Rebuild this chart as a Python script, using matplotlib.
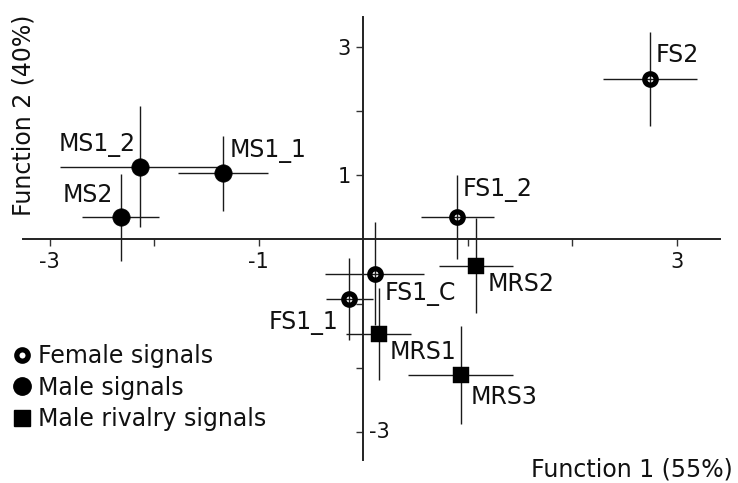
import matplotlib
matplotlib.use("Agg")
import matplotlib.pyplot as plt
from matplotlib.lines import Line2D

# ------------------- DATA ------------------- #

female_names = ["FS2", "FS1_2", "FS1_C", "FS1_1"]
female_x = [2.75, 0.90, 0.11, -0.13]
female_y = [2.49, 0.345, -0.53, -0.925]
female_xerr = [0.45, 0.35, 0.47, 0.225]
female_yerr = [0.73, 0.65, 0.80, 0.64]

male_names = ["MS1_2", "MS1_1", "MS2"]
male_x = [-2.13, -1.34, -2.32]
male_y = [1.13, 1.03, 0.345]
male_xerr = [0.77, 0.43, 0.37]
male_yerr = [0.94, 0.58, 0.68]

rival_names = ["MRS1", "MRS2", "MRS3"]
rival_x = [0.15, 1.08, 0.935]
rival_y = [-1.47, -0.41, -2.11]
rival_xerr = [0.31, 0.355, 0.50]
rival_yerr = [0.71, 0.74, 0.76]

x_ticks = [-3, -2, -1, 1, 2, 3]
x_ticklabels = ["-3", "", "-1", "", "", "3"]
y_ticks = [-3, -2, -1, 1, 2, 3]
y_shown_left = [1, 3]
y_shown_right = [-3]

# label offsets in pixels (dx, dy, ha)
label_offsets = {
    "FS2": (5, 24, "left"), "FS1_2": (6, 27, "left"),
    "FS1_C": (10, -20, "left"), "FS1_1": (-11, -24, "right"),
    "MS1_2": (-5, 22, "right"), "MS1_1": (7, 22, "left"),
    "MS2": (-8, 22, "right"),
    "MRS1": (11, -18, "left"), "MRS2": (12, -18, "left"),
    "MRS3": (10, -22, "left"),
}

# ------------------- PLOT ------------------- #

plt.rcParams["font.family"] = "DejaVu Sans"
plt.rcParams["axes.unicode_minus"] = False

W, H = 738, 483
fig = plt.figure(figsize=(W / 100, H / 100), dpi=100)
ax = fig.add_axes([23 / W, 1 - 460 / H, 697 / W, 443 / H])
ax.set_xlim(-3.254, 3.416)
ax.set_ylim(-3.43, 3.46)

ink = "#111111"
for s in ["top", "right"]:
    ax.spines[s].set_visible(False)
for s in ["left", "bottom"]:
    ax.spines[s].set_position(("data", 0))
    ax.spines[s].set_linewidth(1.4)
    ax.spines[s].set_color("#222222")

ax.set_xticks(x_ticks)
ax.set_xticklabels(x_ticklabels)
ax.set_yticks(y_ticks)
ax.set_yticklabels([str(t) if t in y_shown_left else "" for t in y_ticks])
ax.tick_params(axis="both", direction="out", length=5, width=1.0,
               color="#333333", labelsize=15, labelcolor=ink, pad=4)
for t in y_shown_right:
    ax.text(0.06, t, str(t), fontsize=15, color=ink, ha="left", va="center")

eb = dict(fmt="none", ecolor="#1a1a1a", elinewidth=1.0, capsize=0, zorder=2)
ax.errorbar(female_x, female_y, xerr=female_xerr, yerr=female_yerr, **eb)
ax.errorbar(male_x, male_y, xerr=male_xerr, yerr=male_yerr, **eb)
ax.errorbar(rival_x, rival_y, xerr=rival_xerr, yerr=rival_yerr, **eb)

ax.plot(female_x, female_y, "o", ms=8.2, mfc="none", mec="black", mew=3.8, zorder=3)
ax.plot(male_x, male_y, "o", ms=12.5, mfc="black", mec="black", mew=0.5, zorder=3)
ax.plot(rival_x, rival_y, "s", ms=12.2, mfc="black", mec="black", mew=0.3, zorder=3)

for names, xs, ys in [(female_names, female_x, female_y),
                      (male_names, male_x, male_y),
                      (rival_names, rival_x, rival_y)]:
    for n, x, y in zip(names, xs, ys):
        dx, dy, ha = label_offsets[n]
        ax.annotate(n, (x, y), xytext=(dx, dy), textcoords="offset pixels",
                    ha=ha, va="center", fontsize=17, color=ink, zorder=4)

fig.text(24 / W, 1 - 115 / H, "Function 2 (40%)", rotation=90,
         ha="center", va="center", fontsize=17, color=ink)
fig.text(632 / W, 1 - 470 / H, "Function 1 (55%)",
         ha="center", va="center", fontsize=17, color=ink)

handles = [
    Line2D([], [], ls="none", marker="o", ms=8.2, mfc="white", mec="black", mew=3.8),
    Line2D([], [], ls="none", marker="o", ms=12.5, mfc="black", mec="black"),
    Line2D([], [], ls="none", marker="s", ms=12.2, mfc="black", mec="black"),
]
fig.legend(handles, ["Female signals", "Male signals", "Male rivalry signals"],
           loc="upper left", bbox_to_anchor=(10 / W, 1 - 344 / H),
           frameon=False, fontsize=17, handlelength=1.0, handletextpad=0.2,
           labelspacing=0.32, borderpad=0, borderaxespad=0,
           labelcolor=ink)

fig.savefig("out.png", dpi=100)
